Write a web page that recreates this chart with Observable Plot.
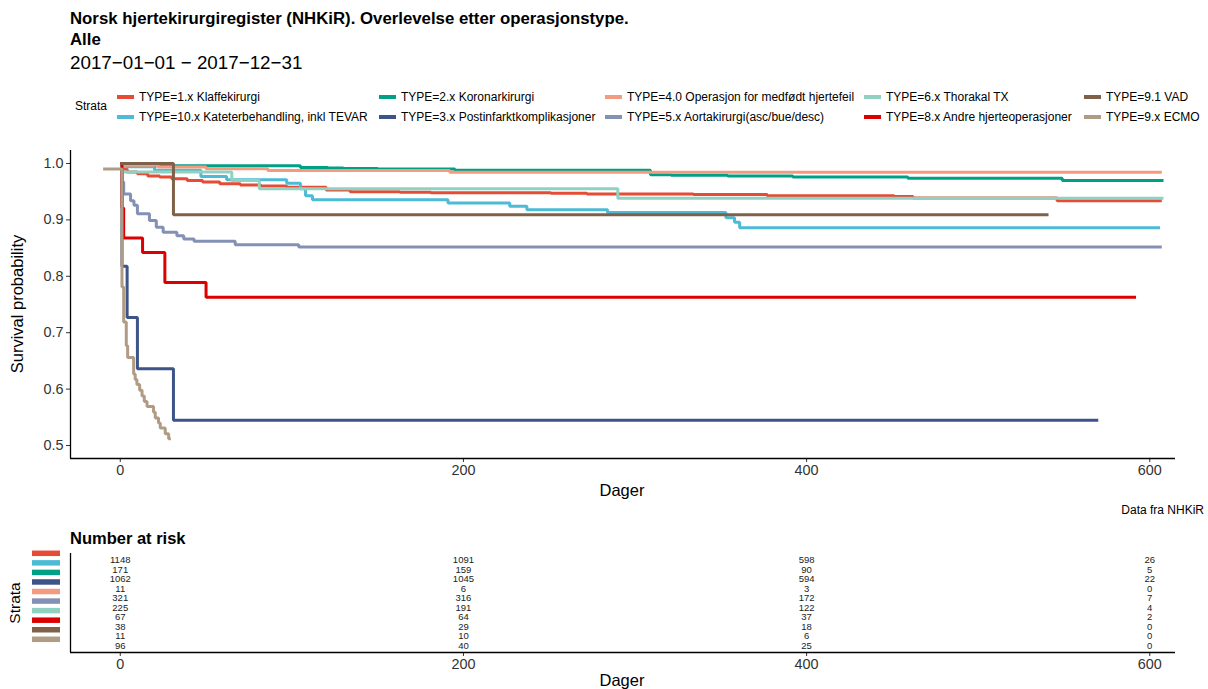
<!DOCTYPE html>
<html><head><meta charset="utf-8">
<script src="https://cdn.jsdelivr.net/npm/d3@7"></script>
<script src="https://cdn.jsdelivr.net/npm/@observablehq/plot@0.6"></script>
<style>
body{margin:0;background:#fff;font-family:"Liberation Sans",Arial,sans-serif;}
#root{position:relative;width:1208px;height:689px;overflow:hidden;background:#fff;}
.t{position:absolute;white-space:nowrap;line-height:1;color:#000;}
.sw{position:absolute;height:4px;}
svg{position:absolute;left:0;}
</style></head><body><div id="root"></div><script>
// ---------------- data ----------------
const strata = ["TYPE=1.x Klaffekirurgi","TYPE=10.x Kateterbehandling, inkl TEVAR","TYPE=2.x Koronarkirurgi","TYPE=3.x Postinfarktkomplikasjoner","TYPE=4.0 Operasjon for medfødt hjertefeil","TYPE=5.x Aortakirurgi(asc/bue/desc)","TYPE=6.x Thorakal TX","TYPE=8.x Andre hjerteoperasjoner","TYPE=9.1 VAD","TYPE=9.x ECMO"];
const colors = ["#E64B35","#4DBBD5","#00A087","#3C5488","#F39B7F","#8491B4","#91D1C2","#DC0000","#7E6148","#B09C85"];

// survival curves (days, survival probability)
const t_klaffe = [0,1,4,10,16,23,30,39,48,58,70,82,97,120,134,163,181,251,272,334,377,451,462,546,607];
const s_klaffe = [1,0.990,0.985,0.982,0.978,0.976,0.973,0.970,0.967,0.964,0.962,0.960,0.958,0.953,0.950,0.949,0.948,0.947,0.946,0.945,0.943,0.9415,0.939,0.934,0.934];
const t_kateter = [0,3,20,47,62,97,105,108,112,191,227,237,284,353,358,361,606];
const s_kateter = [1,0.994,0.988,0.977,0.971,0.965,0.955,0.943,0.9355,0.930,0.924,0.918,0.913,0.904,0.896,0.886,0.886];
const t_koronar = [0,3,20,105,121,130,150,195,309,321,354,392,459,549,608];
const s_koronar = [1,0.998,0.996,0.993,0.992,0.991,0.990,0.988,0.980,0.979,0.978,0.976,0.974,0.970,0.970];
const t_postinf = [0,1,4,10,31,570];
const s_postinf = [1,0.818,0.727,0.636,0.545,0.545];
const t_medfodt = [0,2,22,50,86,192,607];
const s_medfodt = [1,0.9969,0.9938,0.9907,0.9875,0.9844,0.9844];
const t_aorta = [0,1,2,6,8,10,17,21,25,33,37,43,67,104,607];
const s_aorta = [1,0.967,0.946,0.934,0.926,0.911,0.899,0.887,0.878,0.872,0.866,0.862,0.856,0.852,0.852];
const t_thorakal = [0,1,65,81,290,608];
const s_thorakal = [1,0.985,0.970,0.955,0.9385,0.9385];
const t_andre = [0,1,2,13,26,50,592];
const s_andre = [1,0.921,0.868,0.842,0.789,0.763,0.763];
const t_vad = [0,31,541];
const s_vad = [1,0.909,0.909];
const t_ecmo = [-10,1,2,3.5,4.3,7.8,8.7,9.7,11.3,12.7,14,15.6,19.4,20.4,22.3,23.3,26.2,28.2,29.5];
const s_ecmo = [0.990,0.781,0.719,0.677,0.656,0.627,0.617,0.608,0.598,0.588,0.578,0.569,0.559,0.549,0.540,0.531,0.521,0.512,0.512];

// number at risk
const riskTimes = [0,200,400,600];
const risk_klaffe = [1148,1091,598,26];
const risk_kateter = [171,159,90,5];
const risk_koronar = [1062,1045,594,22];
const risk_postinf = [11,6,3,0];
const risk_medfodt = [321,316,172,7];
const risk_aorta = [225,191,122,4];
const risk_thorakal = [67,64,37,2];
const risk_andre = [38,29,18,0];
const risk_vad = [11,10,6,0];
const risk_ecmo = [96,40,25,0];

// axes
const xTicks = [0,200,400,600];
const yTicks = [0.5,0.6,0.7,0.8,0.9,1.0];
const xDomain = [-29,615];
const yDomain = [0.477,1.023];

// ---------------- build ----------------
const times = [t_klaffe,t_kateter,t_koronar,t_postinf,t_medfodt,t_aorta,t_thorakal,t_andre,t_vad,t_ecmo];
const survs = [s_klaffe,s_kateter,s_koronar,s_postinf,s_medfodt,s_aorta,s_thorakal,s_andre,s_vad,s_ecmo];
const risks = [risk_klaffe,risk_kateter,risk_koronar,risk_postinf,risk_medfodt,risk_aorta,risk_thorakal,risk_andre,risk_vad,risk_ecmo];

const curveRows = [];
strata.forEach((s,i)=>times[i].forEach((t,j)=>curveRows.push({strata:s,t,surv:survs[i][j]})));
const riskRows = [];
strata.forEach((s,i)=>riskTimes.forEach((t,j)=>riskRows.push({strata:s,idx:i,t,n:risks[i][j]})));

const root = document.getElementById("root");
function txt(str,x,y,size,opts={}){
  const d=document.createElement("div");d.className="t";d.textContent=str;
  d.style.fontSize=size+"px";d.style.left=x+"px";d.style.top=y+"px";
  if(opts.bold)d.style.fontWeight="bold";
  let tr="translateY(-50%)";
  if(opts.anchor==="end")tr="translate(-100%,-50%)";
  if(opts.anchor==="middle")tr="translate(-50%,-50%)";
  if(opts.rotate)tr="translate(-50%,-50%) rotate(-90deg)";
  d.style.transform=tr;
  if(opts.color)d.style.color=opts.color;
  root.appendChild(d);return d;
}

// titles
txt("Norsk hjertekirurgiregister (NHKiR). Overlevelse etter operasjonstype.",70,19,16.8,{bold:true});
txt("Alle",70,40,16.8,{bold:true});
txt("2017\u221201\u221201 \u2212 2017\u221212\u221231",70,63,18.8);

// legend
txt("Strata",75,106,12);
const colX=[117,379,605,864,1084];
strata.forEach((s,i)=>{
  const col=Math.floor(i/2), row=i%2;
  const y=row===0?97:117;
  const sw=document.createElement("div");sw.className="sw";
  sw.style.left=colX[col]+"px";sw.style.top=(y-2)+"px";sw.style.width="17px";sw.style.background=colors[i];
  root.appendChild(sw);
  txt(s,colX[col]+22,y,12);
});

const font = '"Liberation Sans", Arial, sans-serif';

// main chart
const W=1208, mL=70, mR=33;
const main = Plot.plot({
  width:W, height:360, marginLeft:mL, marginRight:mR, marginTop:10, marginBottom:42,
  x:{domain:xDomain}, y:{domain:yDomain},
  color:{domain:strata, range:colors},
  style:{fontFamily:font, fontSize:"14.4px", color:"#333", background:"transparent"},
  marks:[
    Plot.axisX({ticks:xTicks, tickSize:4, tickPadding:2, label:null, fontSize:14.4}),
    Plot.axisY({ticks:yTicks, tickSize:4, tickPadding:3, label:null, fontSize:14.4, tickFormat:d=>d.toFixed(1)}),
    Plot.line(curveRows,{x:"t", y:"surv", z:"strata", stroke:"strata", curve:"step-after", strokeWidth:3, strokeLinejoin:"miter", strokeLinecap:"butt"}),
    Plot.ruleX([xDomain[0]],{stroke:"#000", strokeWidth:1.3}),
    Plot.ruleY([yDomain[0]],{stroke:"#000", strokeWidth:1.3})
  ]
});
main.style.top="140px";
root.appendChild(main);

txt("Survival probability",17,304,16.5,{rotate:true});
txt("Dager",622,490,16.5,{anchor:"middle"});
txt("Data fra NHKiR",1204,510,12,{anchor:"end"});
txt("Number at risk",70,538,16.5,{bold:true});

// risk table
const pad=0.68;
const riskYDomain=[strata.length-1+pad,-pad];
const risk = Plot.plot({
  width:W, height:144, marginLeft:mL, marginRight:mR, marginTop:8, marginBottom:37,
  x:{domain:xDomain}, y:{domain:riskYDomain, axis:null},
  color:{domain:strata, range:colors},
  style:{fontFamily:font, fontSize:"14.4px", color:"#333", background:"transparent"},
  marks:[
    Plot.axisX({ticks:xTicks, tickSize:4, tickPadding:2, label:null, fontSize:14.4}),
    Plot.text(riskRows,{x:"t", y:"idx", text:d=>String(d.n), fontSize:9.5, fill:"#222"}),
    Plot.ruleY(strata.map((s,i)=>({s,i})),{y:"i", stroke:"s", strokeWidth:5.5, dy:-6.7, insetLeft:-38, insetRight:(W-mR)-60}),
    Plot.ruleX([xDomain[0]],{stroke:"#000", strokeWidth:1.3}),
    Plot.ruleY([riskYDomain[0]],{stroke:"#000", strokeWidth:1.3})
  ]
});
risk.style.top="545px";
root.appendChild(risk);

txt("Strata",15,603,15.5,{rotate:true});
txt("Dager",622,680,16.5,{anchor:"middle"});
</script></body></html>
